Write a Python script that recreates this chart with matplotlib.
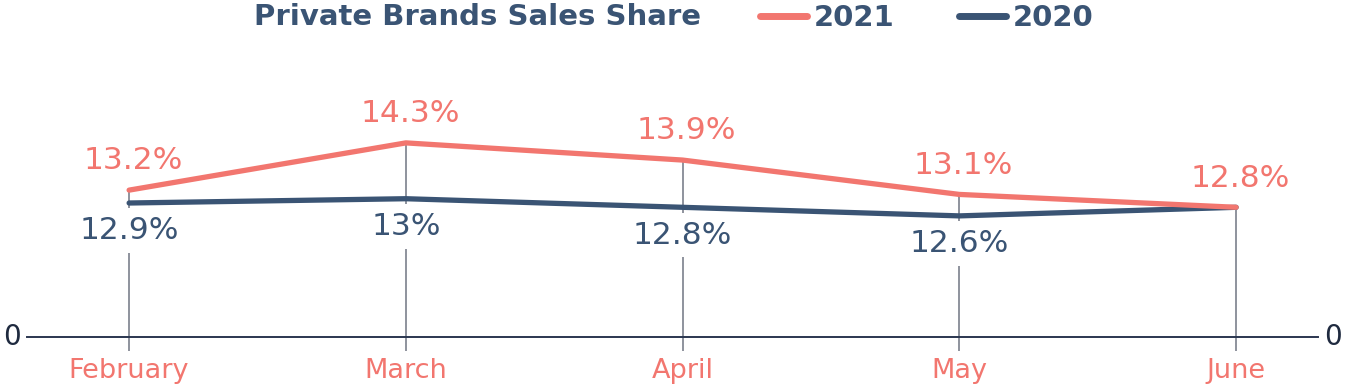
import matplotlib.pyplot as plt
from matplotlib.transforms import blended_transform_factory

months = ["February", "March", "April", "May", "June"]
share_2021 = [13.2, 14.3, 13.9, 13.1, 12.8]
share_2020 = [12.9, 13.0, 12.8, 12.6, 12.8]

SALMON = "#f2766f"
NAVY = "#3a5474"
GRID = "#7b808c"
FONT = "DejaVu Sans"

W, H = 1346, 386
fig = plt.figure(figsize=(W / 100, H / 100), dpi=100)

# axes placed in pixel terms: baseline at y=337, data scale ~43 px per point
ax = fig.add_axes([27 / W, 1 - 337 / H, (1318 - 27) / W, (337 - 60) / H])
ybot, ytop = 9.78, 16.23
xs = list(range(len(months)))
ax.set_xlim(-0.369, 4.296)
ax.set_ylim(ybot, ytop)

for s in ["top", "right", "left"]:
    ax.spines[s].set_visible(False)
ax.spines["bottom"].set_color("#2b3650")
ax.spines["bottom"].set_linewidth(1.4)
ax.set_yticks([])
ax.set_xticks(xs)
ax.set_xticklabels(months, color=SALMON, fontsize=19.5, family=FONT)
ax.tick_params(axis="x", length=0, pad=15)

# guide lines from just below the baseline up to the higher point
tops = [max(a, b) for a, b in zip(share_2021, share_2020)]
ax.vlines(xs, ybot - 14 / 43, tops, color=GRID, lw=1.2, zorder=1, clip_on=False)

l21, = ax.plot(xs, share_2021, color=SALMON, lw=3.8, solid_capstyle="round",
               solid_joinstyle="round", zorder=4, label="2021")
l20, = ax.plot(xs, share_2020, color=NAVY, lw=3.8, solid_capstyle="round",
               solid_joinstyle="round", zorder=3, label="2020")

for x, v in zip(xs, share_2021):
    ax.annotate(f"{v:g}%", (x, v), xytext=(3, 21), textcoords="offset points",
                ha="center", va="center", color=SALMON, fontsize=22.5, family=FONT)
for x, v, v21 in zip(xs, share_2020, share_2021):
    if v == v21:
        continue
    ax.annotate(f"{v:g}%", (x, v), xytext=(0, -20), textcoords="offset points",
                ha="center", va="center", color=NAVY, fontsize=22.5, family=FONT,
                bbox=dict(boxstyle="square,pad=0.25", fc="white", ec="none"), zorder=2)

trans = blended_transform_factory(fig.transFigure, ax.transData)
ax.text(12 / W, ybot, "0", transform=trans, ha="center", va="center",
        color="#1f2a3f", fontsize=20, family=FONT)
ax.text(1333 / W, ybot, "0", transform=trans, ha="center", va="center",
        color="#1f2a3f", fontsize=20, family=FONT)

fig.text(477 / W, 1 - 17 / H, "Private Brands Sales Share", ha="center", va="center",
         color=NAVY, fontsize=21, fontweight="bold", family=FONT)

leg = fig.legend(handles=[l21, l20], loc="center left", bbox_to_anchor=(760 / W, 1 - 18 / H),
                 ncol=2, frameon=False, handlelength=1.6, handletextpad=0.25,
                 columnspacing=2.2, borderaxespad=0, borderpad=0,
                 prop={"family": FONT, "size": 21, "weight": "bold"}, labelcolor=NAVY)
for h in leg.get_lines():
    h.set_linewidth(5)

fig.savefig("out.png", dpi=100)
